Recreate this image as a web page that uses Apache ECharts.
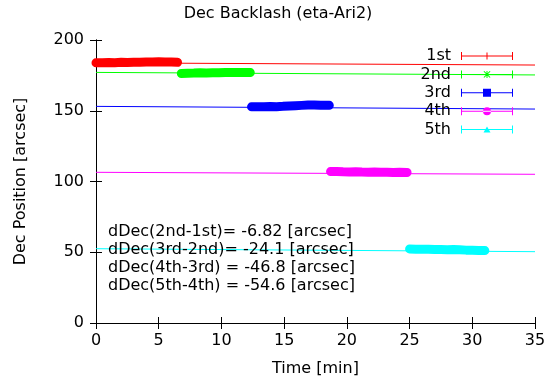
<!DOCTYPE html>
<html>
<head>
<meta charset="utf-8">
<script src="https://cdn.jsdelivr.net/npm/echarts@6/dist/echarts.min.js"></script>
<style>
  body { margin: 0; background: #fff; }
  #chart { width: 556px; height: 385px; }
</style>
</head>
<body>
<div id="chart"></div>
<script>
// measured points [time min, dec arcsec]
const first = [[0, 183.9], [0.5, 184.0], [1, 184.1], [1.5, 184.0], [2, 184.2], [2.5, 184.1], [3, 184.3], [3.5, 184.2], [4, 184.4], [4.5, 184.5], [5, 184.6], [5.5, 184.5], [6, 184.4], [6.5, 184.2]]
const second = [[6.8, 176.4], [7.3, 176.5], [7.8, 176.6], [8.3, 176.8], [8.8, 176.7], [9.3, 176.9], [9.8, 176.8], [10.3, 177.0], [10.8, 177.1], [11.3, 177.0], [11.8, 177.1], [12.3, 177.0]]
const third = [[12.4, 152.8], [12.9, 152.9], [13.4, 152.8], [13.9, 153.0], [14.4, 152.9], [14.9, 153.1], [15.4, 153.4], [15.9, 153.6], [16.4, 153.8], [16.9, 154.0], [17.4, 154.1], [17.9, 153.9], [18.6, 153.8]]
const fourth = [[18.7, 107.0], [19.2, 107.1], [19.7, 106.9], [20.2, 106.8], [20.7, 106.9], [21.2, 106.7], [21.7, 106.6], [22.2, 106.7], [22.7, 106.5], [23.2, 106.6], [23.7, 106.4], [24.2, 106.5], [24.8, 106.4]]
const fifth = [[25.0, 52.3], [25.5, 52.2], [26.0, 52.1], [26.5, 52.2], [27.0, 52.0], [27.5, 51.9], [28.0, 51.8], [28.5, 51.9], [29.0, 51.7], [29.5, 51.5], [30.0, 51.4], [30.5, 51.3], [31.0, 51.2]]

// fitted lines, value at t=0 and t=35
const fitStart = [183.9, 177.1, 153.1, 106.5, 52.5]
const fitEnd = [182.3, 175.3, 151.2, 105.1, 50.4]

const names = ['1st', '2nd', '3rd', '4th', '5th']
const colors = ['#ff0000', '#00ff00', '#0000ff', '#ff00ff', '#00ffff']
const notes = [
  'dDec(2nd-1st)= -6.82 [arcsec]',
  'dDec(3rd-2nd)= -24.1 [arcsec]',
  'dDec(4th-3rd) = -46.8 [arcsec]',
  'dDec(5th-4th) = -54.6 [arcsec]'
]
const xTicks = [0, 35, 5]
const yTicks = [0, 200, 50]

// errorbar legend samples, drawn in a 52 x 8 box
const bar = 'M0,0L1,0L1,3.5L51,3.5L51,0L52,0L52,8L51,8L51,4.5L1,4.5L1,8L0,8Z'
const marks = [
  'M25.5,0.5L26.5,0.5L26.5,7.5L25.5,7.5Z',
  'M25.5,0.5L26.5,0.5L26.5,7.5L25.5,7.5Z M22.5,1.2L23.3,0.6L29.5,6.8L28.7,7.4Z M28.7,0.6L29.5,1.2L23.3,7.4L22.5,6.8Z',
  'M22,0L30,0L30,8L22,8Z',
  'M22,4a4,4 0 1,0 8,0a4,4 0 1,0 -8,0Z',
  'M26,1L29.5,7L22.5,7Z'
]

const font = 'DejaVu Sans, sans-serif'
const fs = 16
const series = []
const data = [first, second, third, fourth, fifth]
data.forEach((d, i) => {
  series.push({
    name: names[i],
    type: 'line',
    data: d,
    showSymbol: false,
    symbol: 'none',
    color: colors[i],
    lineStyle: { width: 9, cap: 'round', join: 'round' },
    z: 3
  })
  series.push({
    name: names[i] + ' fit',
    type: 'line',
    data: [[0, fitStart[i]], [35, fitEnd[i]]],
    symbol: 'none',
    color: colors[i],
    lineStyle: { width: 1 },
    z: 2
  })
})

const myChart = echarts.init(document.getElementById('chart'))
const axisCommon = {
  type: 'value',
  axisLine: { show: true, lineStyle: { color: '#000', width: 1 } },
  axisTick: { show: true, inside: true, length: 6, lineStyle: { color: '#000' } },
  splitLine: { show: false }
}
const option = {
  animation: false,
  textStyle: { fontFamily: font },
  title: {
    text: 'Dec Backlash (eta-Ari2)',
    left: 'center',
    top: 1,
    textStyle: { fontSize: fs, fontWeight: 'normal', color: '#000', fontFamily: font }
  },
  grid: { left: 96, right: 21, top: 40, bottom: 62 },
  legend: {
    orient: 'vertical',
    right: 38,
    top: 43,
    align: 'right',
    itemWidth: 52,
    itemHeight: 8,
    itemGap: 2.4,
    textStyle: { fontSize: fs, color: '#000', fontFamily: font, width: 34, align: 'right', padding: [0, 5, 0, 0] },
    data: names.map((n, i) => ({ name: n, icon: 'path://' + bar + ' ' + marks[i] }))
  },
  xAxis: [
    Object.assign({}, axisCommon, {
      min: xTicks[0], max: xTicks[1], interval: xTicks[2],
      name: 'Time [min]', nameLocation: 'middle', nameGap: 38,
      nameTextStyle: { fontSize: fs, color: '#000' },
      axisLabel: { fontSize: fs, color: '#000', margin: 10 }
    }),
    Object.assign({}, axisCommon, {
      position: 'top',
      min: xTicks[0], max: xTicks[1], interval: xTicks[2],
      axisLabel: { show: false }
    })
  ],
  yAxis: [
    Object.assign({}, axisCommon, {
      min: yTicks[0], max: yTicks[1], interval: yTicks[2],
      name: 'Dec Position [arcsec]', nameLocation: 'middle', nameGap: 67,
      nameTextStyle: { fontSize: fs, color: '#000' },
      axisLabel: { fontSize: fs, color: '#000', margin: 12 }
    }),
    Object.assign({}, axisCommon, {
      position: 'right',
      min: yTicks[0], max: yTicks[1], interval: yTicks[2],
      axisLabel: { show: false }
    })
  ],
  graphic: notes.map((t, i) => ({
    type: 'text',
    left: 108,
    top: 223.5 + i * 18.2,
    z: 10,
    style: { text: t, fontSize: fs, fill: '#000', fontFamily: font }
  })),
  series: series
}
myChart.setOption(option)
</script>
</body>
</html>
